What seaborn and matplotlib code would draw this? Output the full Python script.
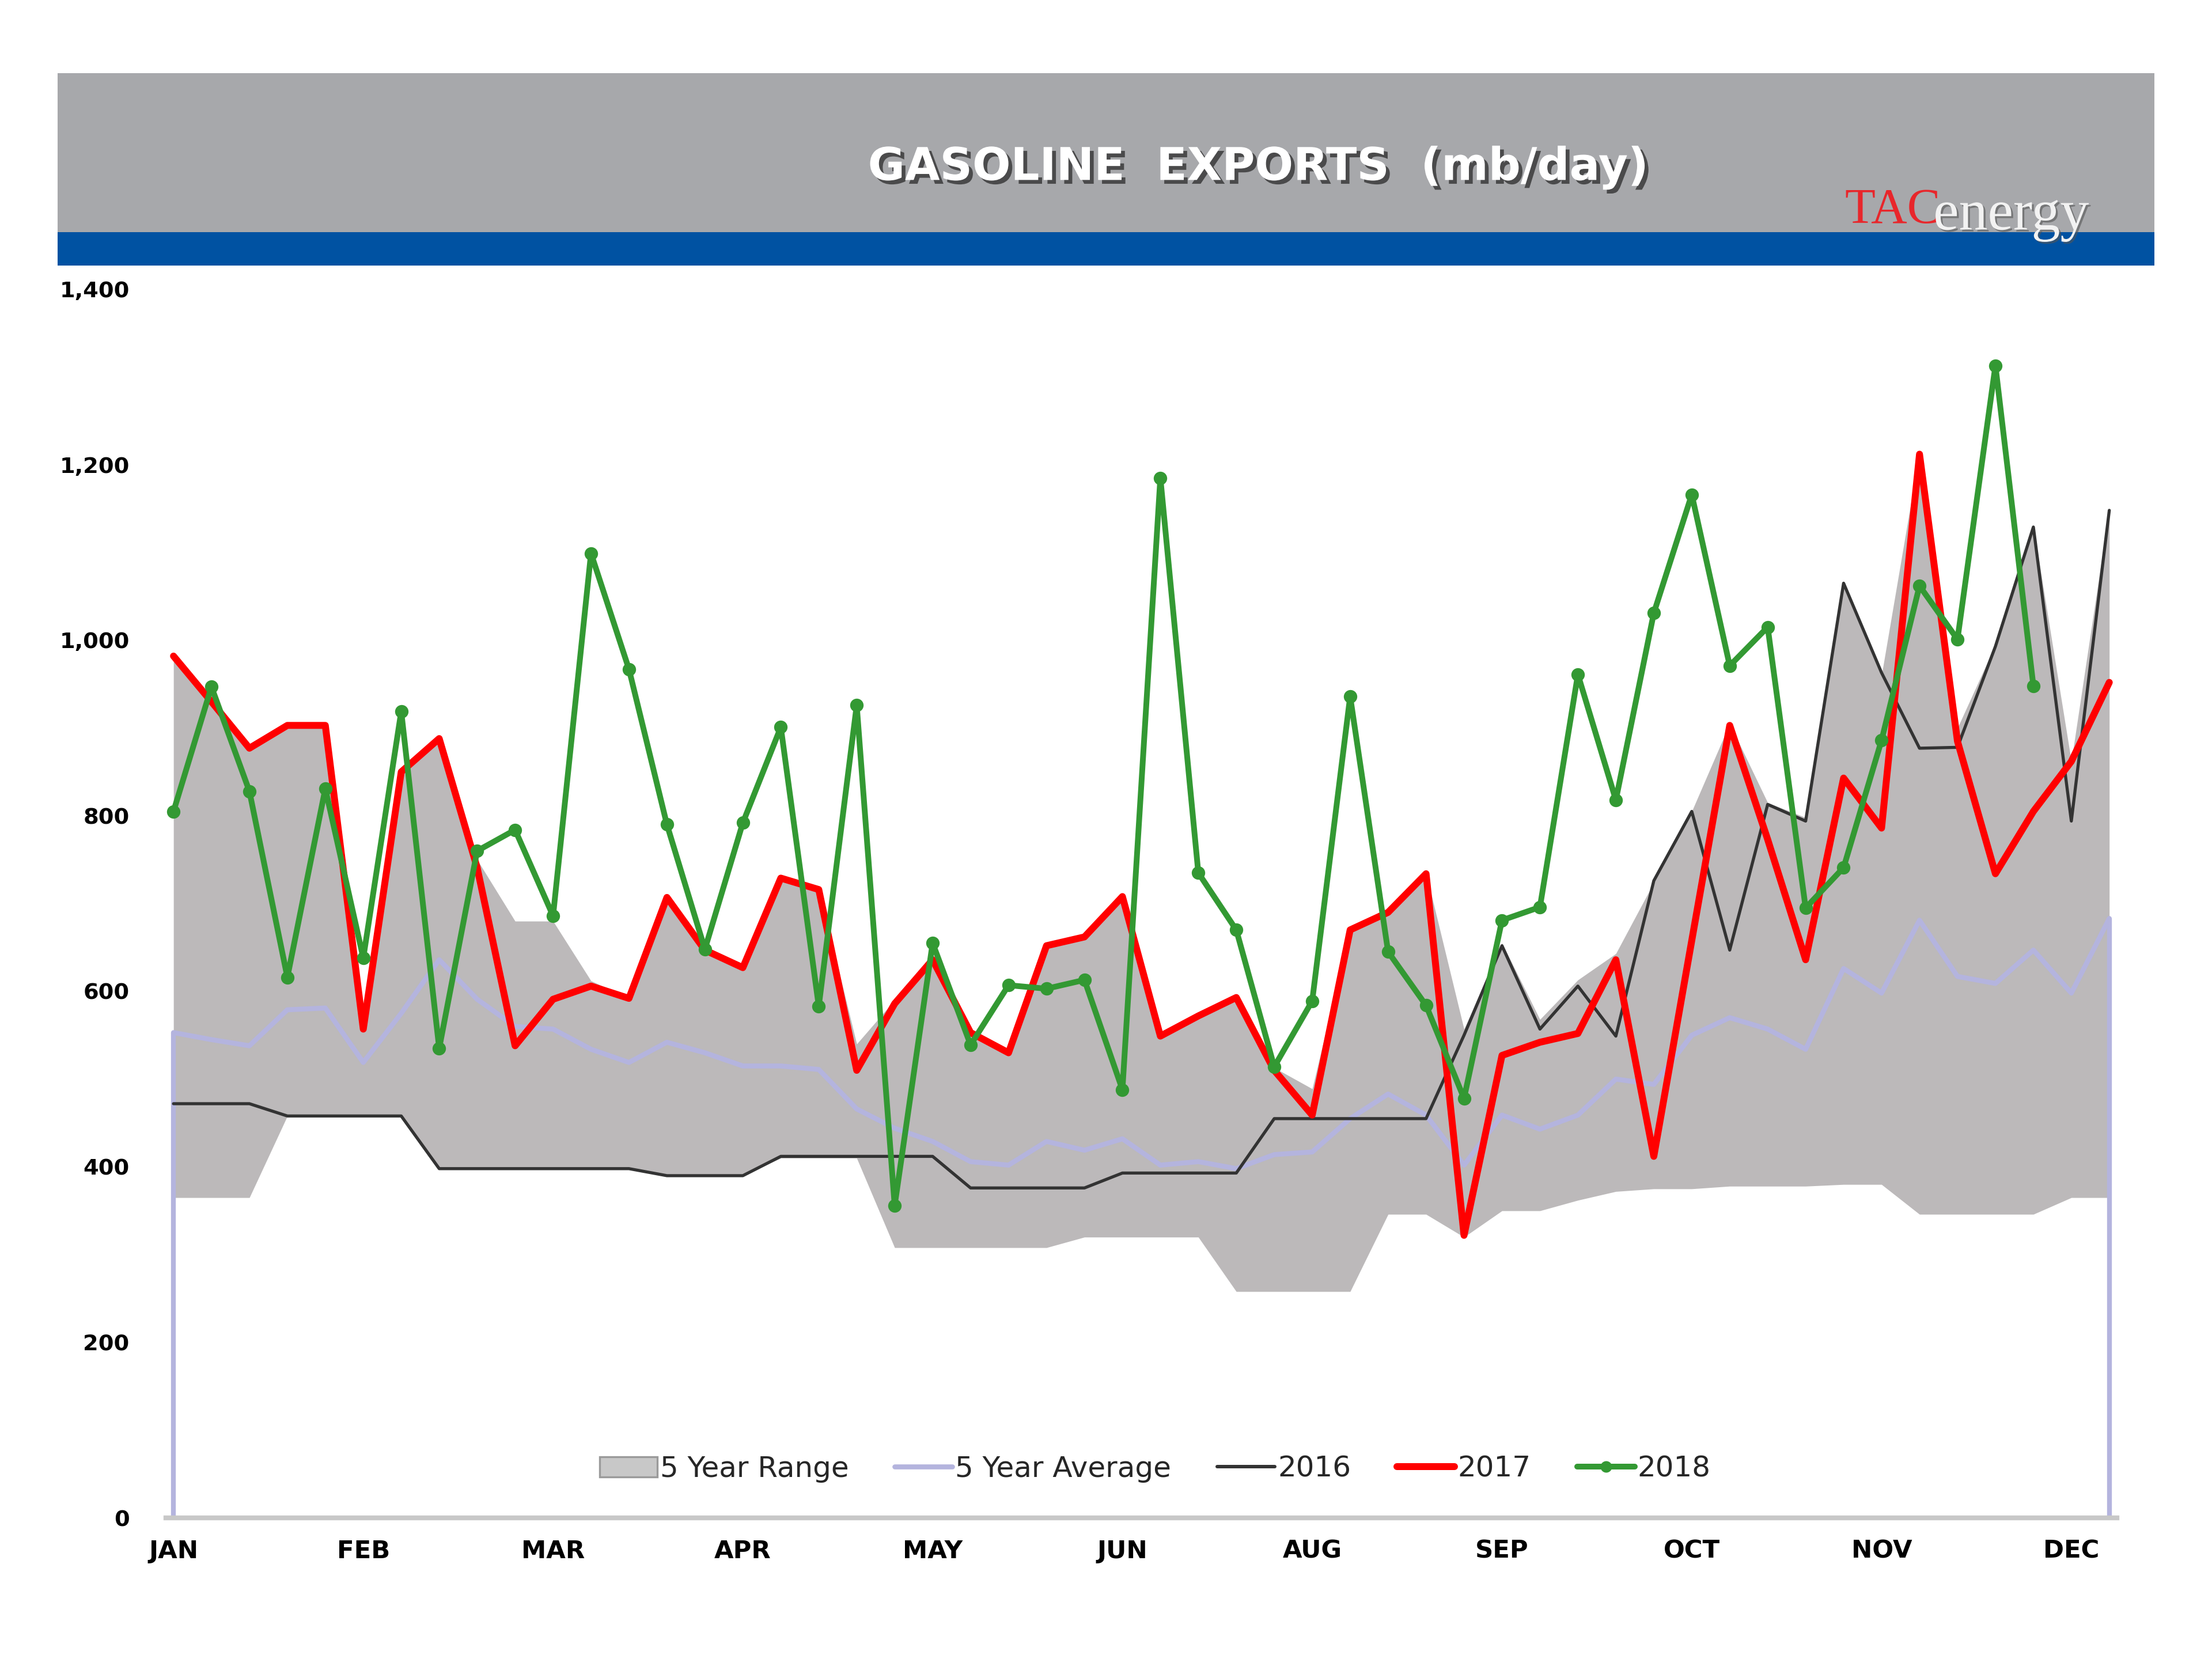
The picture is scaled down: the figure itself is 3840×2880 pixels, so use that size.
import numpy as np
import pandas as pd
import matplotlib
matplotlib.use("Agg")
import matplotlib.pyplot as plt
import matplotlib.patheffects as pe
from matplotlib.patches import Rectangle, Patch
from matplotlib.lines import Line2D
import seaborn as sns

# Weekly gasoline exports, mb/day (52 weeks)
weeks = np.arange(52)
month_ticks = [0, 5, 10, 15, 20, 25, 30, 35, 40, 45, 50]
month_labels = ["JAN", "FEB", "MAR", "APR", "MAY", "JUN", "AUG", "SEP", "OCT", "NOV", "DEC"]

range_low = [365, 365, 365, 458, 458, 458, 458, 398, 398, 398, 398, 398, 398,
             390, 390, 390, 410, 410, 410, 308, 308, 308, 308, 308, 320, 320,
             320, 320, 258, 258, 258, 258, 346, 346, 320, 350, 350, 362, 372,
             375, 375, 378, 378, 378, 380, 380, 346, 346, 346, 346, 365, 365]
range_high = [982, 930, 877, 903, 903, 557, 850, 888, 750, 680, 680, 612, 592,
              710, 647, 627, 730, 717, 540, 590, 643, 555, 530, 653, 663, 708,
              549, 572, 594, 513, 489, 670, 690, 735, 557, 655, 568, 613, 643,
              724, 805, 905, 815, 798, 1066, 960, 1214, 900, 995, 1130, 862, 1150]
avg5 = [553, 545, 538, 579, 581, 519, 575, 636, 591, 560, 557, 534, 519, 542,
        530, 515, 515, 511, 466, 444, 429, 406, 402, 429, 419, 432, 402, 406,
        398, 414, 417, 455, 483, 459, 402, 459, 443, 459, 500, 494, 550, 570,
        557, 534, 626, 598, 681, 617, 609, 647, 598, 683]
y2016 = [472, 472, 472, 458, 458, 458, 458, 398, 398, 398, 398, 398, 398, 390,
         390, 390, 412, 412, 412, 412, 412, 376, 376, 376, 376, 393, 393, 393,
         393, 455, 455, 455, 455, 455, 550, 652, 557, 606, 549, 726, 805, 647,
         813, 794, 1065, 963, 877, 878, 993, 1129, 794, 1148]
y2017 = [982, 930, 877, 903, 903, 557, 850, 888, 741, 538, 591, 606, 592, 707,
         647, 627, 729, 716, 510, 586, 636, 553, 530, 652, 662, 708, 549, 572,
         593, 510, 459, 670, 690, 734, 322, 527, 542, 552, 636, 412, 658, 903,
         773, 636, 843, 786, 1212, 885, 734, 805, 862, 952]
y2018 = [805, 947, 828, 616, 831, 638, 919, 535, 760, 784, 686, 1099, 967, 790,
         648, 792, 901, 583, 926, 356, 655, 539, 607, 603, 613, 488, 1185, 735,
         670, 514, 589, 936, 645, 584, 478, 681, 696, 961, 818, 1031, 1166, 971,
         1015, 695, 741, 886, 1062, 1001, 1313, 948]

c_range = "#bcb9ba"
c_avg = "#b4b4de"
c_2016 = "#333333"
c_2017 = "#ff0000"
c_2018 = "#339933"

sns.set_theme(style="white")
plt.rcParams["font.family"] = ["DejaVu Sans"]

fig = plt.figure(figsize=(16, 12), dpi=240)

# Header banner
fig.patches.append(Rectangle((0.026, 0.860), 0.948, 0.096, transform=fig.transFigure,
                             facecolor="#a7a8ab", edgecolor="none", zorder=0))
fig.patches.append(Rectangle((0.026, 0.840), 0.948, 0.020, transform=fig.transFigure,
                             facecolor="#0052a2", edgecolor="none", zorder=0))
fig.text(0.569, 0.899, "GASOLINE  EXPORTS  (mb/day)", color="white", fontsize=23.5,
         fontweight="bold", ha="center", va="center",
         path_effects=[pe.SimplePatchShadow(offset=(2, -2), shadow_rgbFace="#333333", alpha=0.8),
                       pe.Normal()])
fig.text(0.834, 0.873, "TAC", color="#e8262b", fontsize=26, family="Liberation Serif",
         ha="left", va="center")
fig.text(0.874, 0.870, "energy", color="#f2f2f2", fontsize=30, family="Liberation Serif",
         ha="left", va="center",
         path_effects=[pe.SimplePatchShadow(offset=(1, -1), shadow_rgbFace="#555555", alpha=0.6),
                       pe.Normal()])

ax = fig.add_axes([0.075, 0.085, 0.882, 0.7407])

# 5 year range band
ax.fill_between(weeks, range_low, range_high, color=c_range, linewidth=0, zorder=1)
ax.vlines([weeks[0], weeks[-1]], 0, [avg5[0], avg5[-1]], color=c_avg, linewidth=2.5, zorder=2)

sns.lineplot(x=weeks, y=avg5, ax=ax, color=c_avg, linewidth=2.6, zorder=3)
sns.lineplot(x=weeks, y=y2016, ax=ax, color=c_2016, linewidth=1.6, zorder=4)
sns.lineplot(x=weeks, y=y2017, ax=ax, color=c_2017, linewidth=3.6, zorder=5)
sns.lineplot(x=weeks[:len(y2018)], y=y2018, ax=ax, color=c_2018, linewidth=3.0,
             marker="o", markersize=7, markeredgewidth=0, zorder=6)

ax.set_xlim(-0.2, 51.2)
ax.set_ylim(0, 1400)
ax.set_yticks(range(0, 1401, 200))
ax.set_yticklabels([f"{v:,}" for v in range(0, 1401, 200)])
ax.set_xticks(month_ticks)
ax.set_xticklabels(month_labels)
ax.tick_params(axis="y", length=0, labelsize=11.5, colors="black", pad=19)
ax.tick_params(axis="x", length=0, labelsize=13, colors="black", pad=11)
for lab in ax.get_xticklabels() + ax.get_yticklabels():
    lab.set_fontweight("bold")
ax.set_xlabel("")
ax.set_ylabel("")
for side in ["top", "right", "left"]:
    ax.spines[side].set_visible(False)
ax.spines["bottom"].set_color("#c8c8c8")
ax.spines["bottom"].set_linewidth(2.5)

handles = [
    Patch(facecolor="#c8c8c8", edgecolor="#9a9a9a", linewidth=1.0),
    Line2D([], [], color=c_avg, linewidth=2.6),
    Line2D([], [], color=c_2016, linewidth=1.8),
    Line2D([], [], color=c_2017, linewidth=3.6),
    Line2D([], [], color=c_2018, linewidth=3.0, marker="o", markersize=6, markeredgewidth=0),
]
labels = ["5 Year Range", "5 Year Average", "2016", "2017", "2018"]
ax.legend(handles, labels, loc="center", bbox_to_anchor=(0.507, 0.04), ncol=5,
          frameon=False, fontsize=15, handlelength=2.0, handletextpad=0.1,
          columnspacing=1.6)

fig.savefig("out.png", dpi=240, facecolor="white")
